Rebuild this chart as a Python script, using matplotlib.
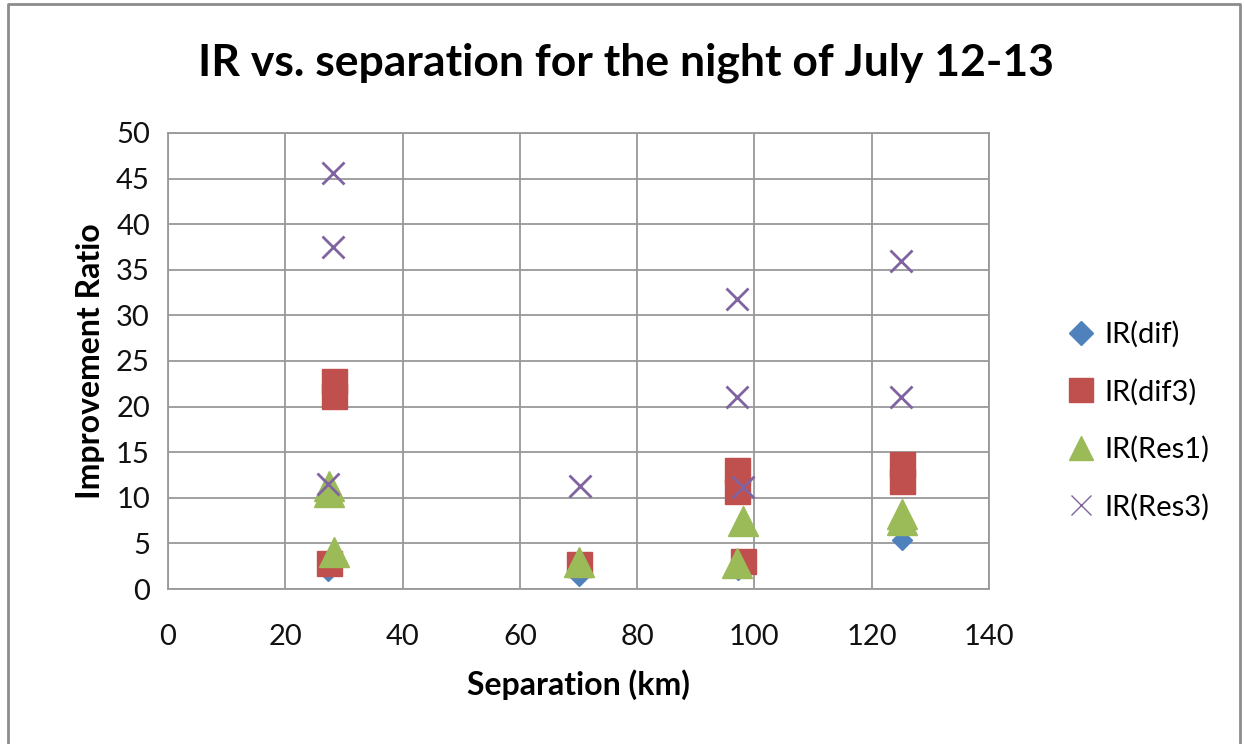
import matplotlib.pyplot as plt
from matplotlib.lines import Line2D

plt.rcParams['font.family'] = ['Lato', 'DejaVu Sans']

# separation (km) and improvement ratio for each series
dif_x = [27.3, 28.3, 70.0, 97.2, 97.6, 125.2]
dif_y = [2.0, 3.5, 1.4, 2.1, 2.6, 5.4]

dif3_x = [27.4, 28.3, 28.3, 70.0, 97.1, 97.1, 98.0, 125.2, 125.2]
dif3_y = [2.9, 21.2, 22.8, 2.7, 10.7, 13.1, 3.1, 11.8, 13.7]

res1_x = [27.4, 27.4, 28.3, 70.1, 97.1, 98.1, 125.1, 125.1]
res1_y = [10.6, 11.3, 4.1, 3.0, 2.9, 7.5, 7.6, 8.2]

res3_x = [28.1, 28.1, 27.3, 70.2, 97.1, 97.1, 98.0, 125.0, 125.0]
res3_y = [45.6, 37.5, 11.5, 11.3, 31.8, 21.1, 11.2, 36.0, 21.0]

labels = ['IR(dif)', 'IR(dif3)', 'IR(Res1)', 'IR(Res3)']
c_blue, c_red, c_green, c_purple = '#4F81BD', '#C0504D', '#9BBB59', '#8064A2'

fig = plt.figure(figsize=(12.44, 7.44), dpi=100)
ax = fig.add_axes([168 / 1244, 1 - 589 / 744, (989 - 168) / 1244, (589 - 133) / 744])

ax.plot(dif_x, dif_y, 'D', ms=10, color=c_blue, mec=c_blue, ls='none', zorder=3)
ax.plot(dif3_x, dif3_y, 's', ms=18, color=c_red, mec=c_red, ls='none', zorder=4)
ax.plot(res1_x, res1_y, '^', ms=21, color=c_green, mec=c_green, ls='none', zorder=5)
ax.plot(res3_x, res3_y, 'x', ms=16, color=c_purple, mew=2.0, ls='none', zorder=6)

ax.set_xlim(0, 140)
ax.set_ylim(0, 50)
ax.set_xticks(range(0, 141, 20))
ax.set_yticks(range(0, 51, 5))
ax.grid(True, color='#999999', lw=1.3)
ax.set_axisbelow(True)
for s in ax.spines.values():
    s.set_color('#999999')
    s.set_linewidth(1.3)
ax.tick_params(length=0, labelsize=21, colors='#111111')
ax.tick_params(axis='x', pad=25)
ax.tick_params(axis='y', pad=13)

ax.set_xlabel('Separation (km)', fontsize=23, fontweight='bold', labelpad=14)
ax.set_ylabel('Improvement Ratio', fontsize=23, fontweight='bold', labelpad=8)
fig.text(0.503, 0.915, 'IR vs. separation for the night of July 12-13',
         ha='center', va='center', fontsize=32, fontweight='bold')

handles = [
    Line2D([], [], marker='D', ms=12, color=c_blue, ls='none'),
    Line2D([], [], marker='s', ms=17, color=c_red, ls='none'),
    Line2D([], [], marker='^', ms=17, color=c_green, ls='none'),
    Line2D([], [], marker='x', ms=15, color=c_purple, mew=1.0, ls='none'),
]
fig.legend(handles, labels, loc='center left', bbox_to_anchor=(1040 / 1244, 1 - 421 / 744),
           frameon=False, fontsize=21, labelspacing=1.05, handlelength=1.0,
           handletextpad=0.3)

# outer chart border
fig.add_artist(Line2D([8 / 1244, 8 / 1244, 1240 / 1244, 1240 / 1244],
                      [-0.1, 1 - 4 / 744, 1 - 4 / 744, -0.1],
                      transform=fig.transFigure, color='#8c8c8c', lw=2))

fig.savefig('out.png', dpi=100)
